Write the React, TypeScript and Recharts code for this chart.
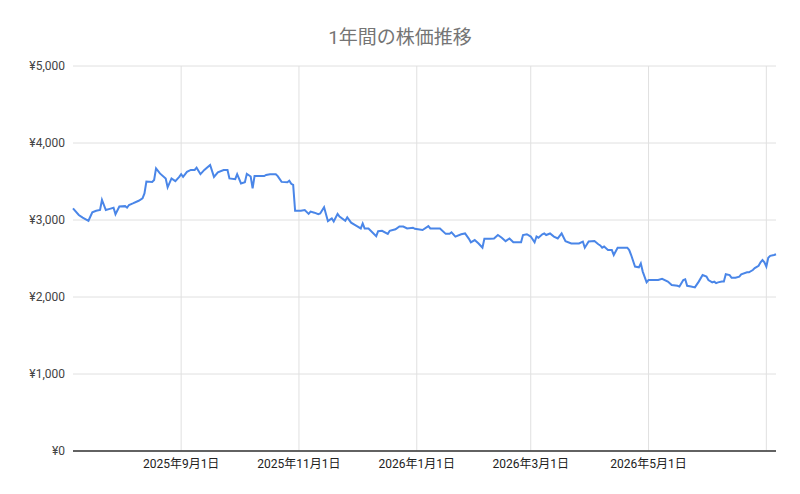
import { LineChart, Line, XAxis, YAxis, CartesianGrid } from "recharts";

const tradeDates = [
  "2025-07-07", "2025-07-10", "2025-07-12", "2025-07-15", "2025-07-17", "2025-07-19", "2025-07-21", "2025-07-22",
  "2025-07-24", "2025-07-26", "2025-07-28", "2025-07-29", "2025-07-31", "2025-08-03", "2025-08-04", "2025-08-05",
  "2025-08-07", "2025-08-10", "2025-08-12", "2025-08-13", "2025-08-14", "2025-08-17", "2025-08-18", "2025-08-19",
  "2025-08-21", "2025-08-24", "2025-08-25", "2025-08-27", "2025-08-29", "2025-08-31", "2025-09-01", "2025-09-02",
  "2025-09-04", "2025-09-06", "2025-09-08", "2025-09-09", "2025-09-11", "2025-09-13", "2025-09-16", "2025-09-18",
  "2025-09-20", "2025-09-23", "2025-09-25", "2025-09-26", "2025-09-29", "2025-09-30", "2025-10-02", "2025-10-04",
  "2025-10-05", "2025-10-07", "2025-10-08", "2025-10-09", "2025-10-11", "2025-10-14", "2025-10-15", "2025-10-17",
  "2025-10-20", "2025-10-21", "2025-10-23", "2025-10-26", "2025-10-27", "2025-10-28", "2025-10-29", "2025-10-30",
  "2025-11-02", "2025-11-04", "2025-11-06", "2025-11-07", "2025-11-09", "2025-11-11", "2025-11-12", "2025-11-14",
  "2025-11-16", "2025-11-18", "2025-11-19", "2025-11-21", "2025-11-22", "2025-11-25", "2025-11-26", "2025-11-28",
  "2025-12-01", "2025-12-03", "2025-12-04", "2025-12-05", "2025-12-07", "2025-12-11", "2025-12-12", "2025-12-14",
  "2025-12-17", "2025-12-18", "2025-12-21", "2025-12-23", "2025-12-25", "2025-12-27", "2025-12-30", "2025-12-31",
  "2026-01-04", "2026-01-07", "2026-01-08", "2026-01-11", "2026-01-13", "2026-01-16", "2026-01-18", "2026-01-19",
  "2026-01-21", "2026-01-24", "2026-01-26", "2026-01-28", "2026-01-29", "2026-01-31", "2026-02-02", "2026-02-04",
  "2026-02-05", "2026-02-08", "2026-02-10", "2026-02-12", "2026-02-14", "2026-02-16", "2026-02-18", "2026-02-20",
  "2026-02-22", "2026-02-24", "2026-02-25", "2026-02-27", "2026-03-01", "2026-03-03", "2026-03-04", "2026-03-05",
  "2026-03-07", "2026-03-08", "2026-03-09", "2026-03-11", "2026-03-13", "2026-03-15", "2026-03-17", "2026-03-19",
  "2026-03-22", "2026-03-26", "2026-03-28", "2026-03-29", "2026-03-31", "2026-04-03", "2026-04-05", "2026-04-06",
  "2026-04-07", "2026-04-08", "2026-04-10", "2026-04-12", "2026-04-13", "2026-04-15", "2026-04-17", "2026-04-20",
  "2026-04-21", "2026-04-22", "2026-04-24", "2026-04-26", "2026-04-27", "2026-04-28", "2026-04-30", "2026-05-01",
  "2026-05-04", "2026-05-06", "2026-05-08", "2026-05-11", "2026-05-13", "2026-05-16", "2026-05-17", "2026-05-19",
  "2026-05-20", "2026-05-21", "2026-05-23", "2026-05-25", "2026-05-27", "2026-05-29", "2026-05-31", "2026-06-01",
  "2026-06-03", "2026-06-04", "2026-06-05", "2026-06-06", "2026-06-08", "2026-06-09", "2026-06-10", "2026-06-12",
  "2026-06-13", "2026-06-15", "2026-06-17", "2026-06-18", "2026-06-21", "2026-06-22", "2026-06-24", "2026-06-25",
  "2026-06-27", "2026-06-28", "2026-06-29", "2026-06-30", "2026-07-01", "2026-07-02", "2026-07-03", "2026-07-05",
  "2026-07-06",
];

const closePrices = [
  3150, 3065, 3030, 2990, 3100, 3120, 3130, 3260,
  3130, 3145, 3160, 3075, 3175, 3180, 3160, 3195,
  3215, 3250, 3280, 3345, 3500, 3495, 3520, 3670,
  3605, 3540, 3425, 3540, 3505, 3560, 3595, 3560,
  3625, 3650, 3650, 3680, 3595, 3650, 3715, 3560,
  3620, 3650, 3650, 3540, 3530, 3595, 3475, 3490,
  3600, 3565, 3410, 3570, 3570, 3570, 3585, 3595,
  3595, 3570, 3495, 3490, 3510, 3470, 3455, 3120,
  3120, 3130, 3080, 3110, 3095, 3075, 3085, 3165,
  2985, 3020, 2980, 3080, 3045, 2990, 3035, 2965,
  2920, 2890, 2955, 2890, 2890, 2790, 2855, 2860,
  2820, 2860, 2880, 2915, 2915, 2890, 2900, 2885,
  2870, 2920, 2890, 2890, 2890, 2820, 2820, 2840,
  2785, 2815, 2825, 2755, 2710, 2740, 2695, 2640,
  2755, 2755, 2760, 2805, 2770, 2725, 2760, 2710,
  2710, 2710, 2805, 2815, 2785, 2710, 2785, 2770,
  2815, 2825, 2805, 2825, 2785, 2760, 2825, 2725,
  2695, 2695, 2720, 2640, 2720, 2727, 2685, 2670,
  2640, 2655, 2610, 2610, 2545, 2640, 2640, 2640,
  2610, 2545, 2395, 2385, 2435, 2330, 2190, 2220,
  2220, 2220, 2235, 2200, 2155, 2145, 2135, 2220,
  2230, 2145, 2135, 2125, 2200, 2285, 2265, 2220,
  2190, 2200, 2180, 2190, 2200, 2200, 2295, 2285,
  2250, 2250, 2265, 2295, 2320, 2320, 2350, 2375,
  2405, 2450, 2480, 2450, 2395, 2510, 2535, 2545,
  2555,
];

const dateTicks = ["2025-09-01", "2025-11-01", "2026-01-01", "2026-03-01", "2026-05-01", "2026-07-01"];
const unlabeledTicks = ["2026-07-01"];
const priceTicks = [0, 1000, 2000, 3000, 4000, 5000];

const data = tradeDates.map((d, i) => ({ t: Date.parse(d), price: closePrices[i] }));
const xTicks = dateTicks.map((d) => Date.parse(d));
const hiddenTicks = unlabeledTicks.map((d) => Date.parse(d));

const fontFamily = "Roboto, 'Noto Sans CJK JP', sans-serif";

function formatDate(ts: number) {
  if (hiddenTicks.includes(ts)) return "";
  const d = new Date(ts);
  return `${d.getUTCFullYear()}年${d.getUTCMonth() + 1}月${d.getUTCDate()}日`;
}

function formatYen(v: number) {
  return "¥" + v.toLocaleString("en-US");
}

export default function App() {
  return (
    <div style={{ position: "absolute", left: 0, top: 0, width: 800, height: 494, background: "#fff", fontFamily }}>
      <div
        style={{
          position: "absolute",
          top: 22,
          left: 0,
          width: 800,
          textAlign: "center",
          fontSize: 19,
          color: "#757575",
          fontFamily,
        }}
      >
        1年間の株価推移
      </div>
      <LineChart width={800} height={494} data={data} margin={{ top: 66, right: 24, bottom: 13, left: 0 }}>
        <CartesianGrid stroke="#e0e0e0" strokeWidth={1} syncWithTicks />
        <XAxis
          dataKey="t"
          type="number"
          scale="time"
          domain={["dataMin", "dataMax"]}
          ticks={xTicks}
          tickFormatter={formatDate}
          height={30}
          axisLine={{ stroke: "#333", strokeWidth: 1.5 }}
          tickLine={false}
          tick={{ fill: "#222", fontSize: 12, fontFamily }}
          interval={0}
        />
        <YAxis
          width={73}
          domain={[0, 5000]}
          ticks={priceTicks}
          tickFormatter={formatYen}
          axisLine={false}
          tickLine={false}
          tick={{ fill: "#444", fontSize: 12, fontFamily }}
        />
        <Line
          type="linear"
          dataKey="price"
          stroke="#4a86e8"
          strokeWidth={2}
          dot={false}
          isAnimationActive={false}
        />
      </LineChart>
    </div>
  );
}
